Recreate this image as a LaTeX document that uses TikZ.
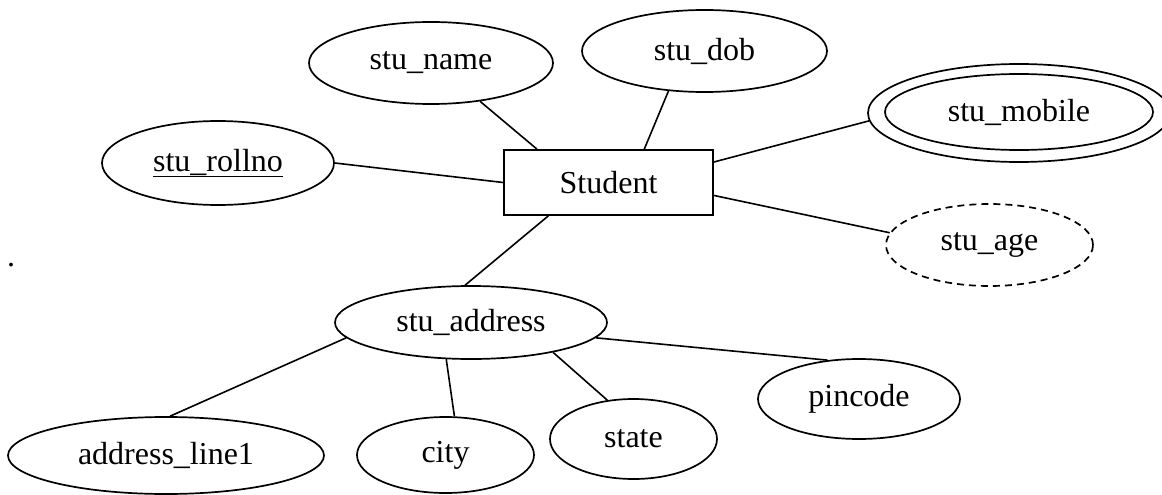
\documentclass[tikz,border=0pt]{standalone}
\usepackage{fontspec}
\setmainfont{Liberation Serif}
\usetikzlibrary{shapes.geometric}
\begin{document}
\begin{tikzpicture}[x=1pt,y=-1pt,
  every node/.style={font=\fontsize{32}{38}\selectfont, inner sep=0pt},
  attr/.style={draw, ellipse, line width=1.7pt},
  ent/.style={draw, rectangle, line width=1.7pt},
  link/.style={line width=1.6pt},
  dashattr/.style={attr, dash pattern=on 7pt off 5pt}]
\useasboundingbox (0,0) rectangle (1162,495);
% entity
\node[ent, minimum width=209pt, minimum height=65pt] (student) at (608.5,182.5) {Student};
% attributes
\node[attr, minimum width=244pt, minimum height=82pt] (name) at (431,63) {stu\_name};
\node[attr, minimum width=245pt, minimum height=82pt] (dob) at (704.5,51) {stu\_dob};
\node[attr, minimum width=232pt, minimum height=84pt] (rollno) at (218,163) {\underline{stu\_rollno}};
\node[attr, minimum width=302pt, minimum height=98pt] (mobileo) at (1019,113) {};
\node[attr, minimum width=268pt, minimum height=76pt] (mobilei) at (1019,112) {stu\_mobile};
\node[dashattr, minimum width=207pt, minimum height=82pt] (age) at (989.5,245) {stu\_age};
\node[attr, minimum width=272pt, minimum height=73pt] (address) at (471,322.5) {stu\_address};
\node[attr, minimum width=316pt, minimum height=77pt] (line1) at (166,455.5) {address\_line1};
\node[attr, minimum width=177pt, minimum height=76pt] (city) at (445.5,455) {city};
\node[attr, minimum width=167pt, minimum height=80pt] (state) at (633.5,439) {state};
\node[attr, minimum width=202pt, minimum height=80pt] (pincode) at (859,399) {pincode};
\node (dot) at (11,265) {.};
% connectors
\draw[link] (name.-38) -- (student.155);
\draw[link] (dob.-132) -- (student.43);
\draw[link] (rollno.0) -- (student.180);
\draw[link] (student.11) -- (mobileo.183);
\draw[link] (student.-7) -- (age.173);
\draw[link] (student.-151) -- (address.99);
\draw[link] (address.187) -- (line1.84);
\draw[link] (address.-124) -- (city.77);
\draw[link] (address.-20) -- (state.124);
\draw[link] (address.-7) -- (pincode.129);
\end{tikzpicture}
\end{document}
